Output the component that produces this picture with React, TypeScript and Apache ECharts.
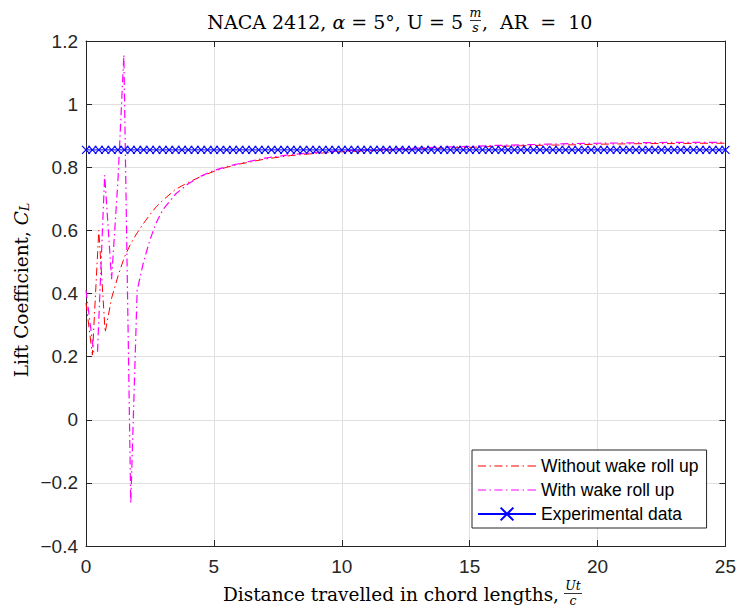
import React, { useEffect, useRef } from "react";
import * as echarts from "echarts";

// ---- data ----
const withoutX = [0, 0.25, 0.5, 0.75, 1.0, 1.25, 1.5, 1.75, 2.0, 2.25, 2.5, 2.75, 3.0, 3.5, 4.0, 4.5, 5.0, 5.5, 6, 7, 8, 9, 10, 11, 12, 13, 14, 15, 16, 17, 18, 19, 20, 21, 22, 23, 24, 25];
const withoutCL = [0.37, 0.205, 0.6, 0.277, 0.385, 0.455, 0.515, 0.558, 0.592, 0.622, 0.65, 0.675, 0.695, 0.73, 0.752, 0.771, 0.787, 0.8, 0.81, 0.826, 0.837, 0.844, 0.849, 0.852, 0.855, 0.858, 0.861, 0.863, 0.866, 0.868, 0.87, 0.871, 0.873, 0.874, 0.875, 0.875, 0.876, 0.876];

const withX = [0, 0.3, 0.45, 0.73, 1.0, 1.25, 1.48, 1.75, 2.0, 2.25, 2.5, 2.75, 3.0, 3.5, 4.0, 4.5, 5.0, 5.5, 6, 7, 8, 9, 10, 11, 12, 13, 14, 15, 16, 17, 18, 19, 20, 21, 22, 23, 24, 25];
const withCL = [0.41, 0.215, 0.215, 0.775, 0.445, 0.76, 1.156, -0.265, 0.41, 0.5, 0.57, 0.625, 0.665, 0.715, 0.748, 0.772, 0.79, 0.802, 0.812, 0.829, 0.84, 0.847, 0.852, 0.855, 0.858, 0.861, 0.864, 0.866, 0.869, 0.871, 0.873, 0.875, 0.876, 0.877, 0.878, 0.879, 0.879, 0.879];

const expCL = 0.855;
const expX = [
  0, 0.25, 0.5, 0.75, 1, 1.25, 1.5, 1.75, 2, 2.25, 2.5, 2.75, 3, 3.25, 3.5, 3.75, 4, 4.25, 4.5, 4.75,
  5, 5.25, 5.5, 5.75, 6, 6.25, 6.5, 6.75, 7, 7.25, 7.5, 7.75, 8, 8.25, 8.5, 8.75, 9, 9.25, 9.5, 9.75,
  10, 10.25, 10.5, 10.75, 11, 11.25, 11.5, 11.75, 12, 12.25, 12.5, 12.75, 13, 13.25, 13.5, 13.75, 14, 14.25, 14.5, 14.75,
  15, 15.25, 15.5, 15.75, 16, 16.25, 16.5, 16.75, 17, 17.25, 17.5, 17.75, 18, 18.25, 18.5, 18.75, 19, 19.25, 19.5, 19.75,
  20, 20.25, 20.5, 20.75, 21, 21.25, 21.5, 21.75, 22, 22.25, 22.5, 22.75, 23, 23.25, 23.5, 23.75, 24, 24.25, 24.5, 24.75, 25,
];

const seriesNames = ["Without wake roll up", "With wake roll up", "Experimental data"];
const xRange = [0, 25, 5];
const yRange = [-0.4, 1.2, 0.2];

const SERIF = "'DejaVu Serif', 'Liberation Serif', serif";
const SANS = "'Liberation Sans', Arial, Helvetica, sans-serif";
const AXIS = "#262626";
const GRIDC = "#e0e0e0";

// dash-dot legend icon (58 x 16 frame; corner points fix the bounding box)
const dashDotIcon =
  "path://M0,0L0,0M58,16L58,16" +
  "M0,7.4L8,7.4L8,8.6L0,8.6Z" +
  "M11.5,7.4L13,7.4L13,8.6L11.5,8.6Z" +
  "M16.5,7.4L24.5,7.4L24.5,8.6L16.5,8.6Z" +
  "M28,7.4L29.5,7.4L29.5,8.6L28,8.6Z" +
  "M33,7.4L41,7.4L41,8.6L33,8.6Z" +
  "M44.5,7.4L46,7.4L46,8.6L44.5,8.6Z" +
  "M49.5,7.4L58,7.4L58,8.6L49.5,8.6Z";

const fmtTick = (v: number) => String(parseFloat(v.toFixed(2))).replace("-", "\u2212");

export default function App() {
  const ref = useRef<HTMLDivElement>(null);
  useEffect(() => {
    if (!ref.current) return;
    const chart = echarts.init(ref.current, null, { renderer: "svg" });
    const axisCommon = {
      axisLine: { show: true, onZero: false, lineStyle: { color: AXIS, width: 1 } },
      axisTick: { show: true, inside: true, length: 6, lineStyle: { color: AXIS } },
    };
    const option = {
      animation: false,
      backgroundColor: "#fff",
      grid: { left: 86, right: 13, top: 41, bottom: 62, containLabel: false },
      xAxis: [
        {
          type: "value", min: xRange[0], max: xRange[1], interval: xRange[2],
          ...axisCommon,
          axisLabel: { color: AXIS, fontSize: 19, fontFamily: SANS, margin: 11, formatter: fmtTick },
          splitLine: { show: true, lineStyle: { color: GRIDC, width: 1 } },
        },
        {
          type: "value", position: "top", min: xRange[0], max: xRange[1], interval: xRange[2],
          ...axisCommon, axisLabel: { show: false }, splitLine: { show: false },
        },
      ],
      yAxis: [
        {
          type: "value", min: yRange[0], max: yRange[1], interval: yRange[2],
          ...axisCommon,
          axisLabel: { color: AXIS, fontSize: 19, fontFamily: SANS, margin: 8, formatter: fmtTick },
          splitLine: { show: true, lineStyle: { color: GRIDC, width: 1 } },
        },
        {
          type: "value", position: "right", min: yRange[0], max: yRange[1], interval: yRange[2],
          ...axisCommon, axisLabel: { show: false }, splitLine: { show: false },
        },
      ],
      legend: {
        show: true,
        orient: "vertical",
        left: 472,
        top: 450,
        data: [
          { name: seriesNames[0], icon: dashDotIcon },
          { name: seriesNames[1], icon: dashDotIcon },
          { name: seriesNames[2] },
        ],
        itemWidth: 58,
        itemHeight: 16,
        itemGap: 6,
        padding: [7, 8, 5, 5],
        borderColor: AXIS,
        borderWidth: 1,
        backgroundColor: "#fff",
        selectedMode: false,
        textStyle: { color: "#000", fontSize: 17.5, fontFamily: SANS, lineHeight: 18 },
      },
      series: [
        {
          name: seriesNames[0],
          type: "line",
          data: withoutX.map((x, i) => [x, withoutCL[i]]),
          showSymbol: false,
          symbol: "none",
          lineStyle: { color: "#ff0000", width: 1, type: [8, 3.5, 1.5, 3.5] },
          itemStyle: { color: "#ff0000" },
          z: 3,
        },
        {
          name: seriesNames[1],
          type: "line",
          data: withX.map((x, i) => [x, withCL[i]]),
          showSymbol: false,
          symbol: "none",
          lineStyle: { color: "#ff00ff", width: 1.2, type: [8, 3.5, 1.5, 3.5] },
          itemStyle: { color: "#ff00ff" },
          z: 3,
        },
        {
          name: seriesNames[2],
          type: "line",
          data: expX.map((x) => [x, expCL]),
          symbol: "path://M0,0L10,10M10,0L0,10",
          symbolSize: 8,
          showSymbol: true,
          lineStyle: { color: "#0000ff", width: 1 },
          itemStyle: { color: "#0000ff", borderColor: "#0000ff", borderWidth: 1.2 },
          z: 4,
        },
      ],
      graphic: [
        {
          type: "text", x: 463, y: 22,
          style: {
            text: "NACA 2412, {i|α} = 5°, U = 5",
            rich: { i: { fontStyle: "italic", fontFamily: SERIF, fontSize: 19 } },
            fontFamily: SERIF, fontSize: 19, fill: "#000", align: "right", verticalAlign: "middle",
          },
        },
        { type: "text", x: 475.5, y: 12, style: { text: "m", fontFamily: SERIF, fontStyle: "italic", fontSize: 12.5, fill: "#000", align: "center", verticalAlign: "middle" } },
        { type: "line", shape: { x1: 470, y1: 20.5, x2: 481, y2: 20.5 }, style: { stroke: "#000", lineWidth: 0.8 } },
        { type: "text", x: 475.5, y: 27, style: { text: "s", fontFamily: SERIF, fontStyle: "italic", fontSize: 12.5, fill: "#000", align: "center", verticalAlign: "middle" } },
        {
          type: "text", x: 482, y: 22,
          style: { text: ",\u00A0\u00A0AR\u00A0\u00A0=\u00A0\u00A010", fontFamily: SERIF, fontSize: 19, fill: "#000", align: "left", verticalAlign: "middle" },
        },
        {
          type: "text", x: 559, y: 594,
          style: { text: "Distance travelled in chord lengths,", fontFamily: SERIF, fontSize: 18.5, fill: "#000", align: "right", verticalAlign: "middle" },
        },
        { type: "text", x: 573, y: 585, style: { text: "Ut", fontFamily: SERIF, fontStyle: "italic", fontSize: 12.5, fill: "#000", align: "center", verticalAlign: "middle" } },
        { type: "line", shape: { x1: 564, y1: 593.5, x2: 582, y2: 593.5 }, style: { stroke: "#000", lineWidth: 0.8 } },
        { type: "text", x: 573, y: 600.5, style: { text: "c", fontFamily: SERIF, fontStyle: "italic", fontSize: 12.5, fill: "#000", align: "center", verticalAlign: "middle" } },
        {
          type: "text", x: 21, y: 290, rotation: Math.PI / 2,
          style: {
            text: "Lift Coefficient, {i|C}{sub|L}",
            rich: {
              i: { fontStyle: "italic", fontFamily: SERIF, fontSize: 18.5, lineHeight: 20 },
              sub: { fontStyle: "italic", fontFamily: SERIF, fontSize: 12.5, lineHeight: 12, verticalAlign: "bottom" },
            },
            fontFamily: SERIF, fontSize: 18.5, lineHeight: 20, fill: "#000", align: "center", verticalAlign: "middle",
          },
        },
      ],
    };
    chart.setOption(option as any);
    return () => chart.dispose();
  }, []);
  return (
    <div
      ref={ref}
      style={{ position: "fixed", left: 0, top: 0, width: 739, height: 608, background: "#fff" }}
    />
  );
}
